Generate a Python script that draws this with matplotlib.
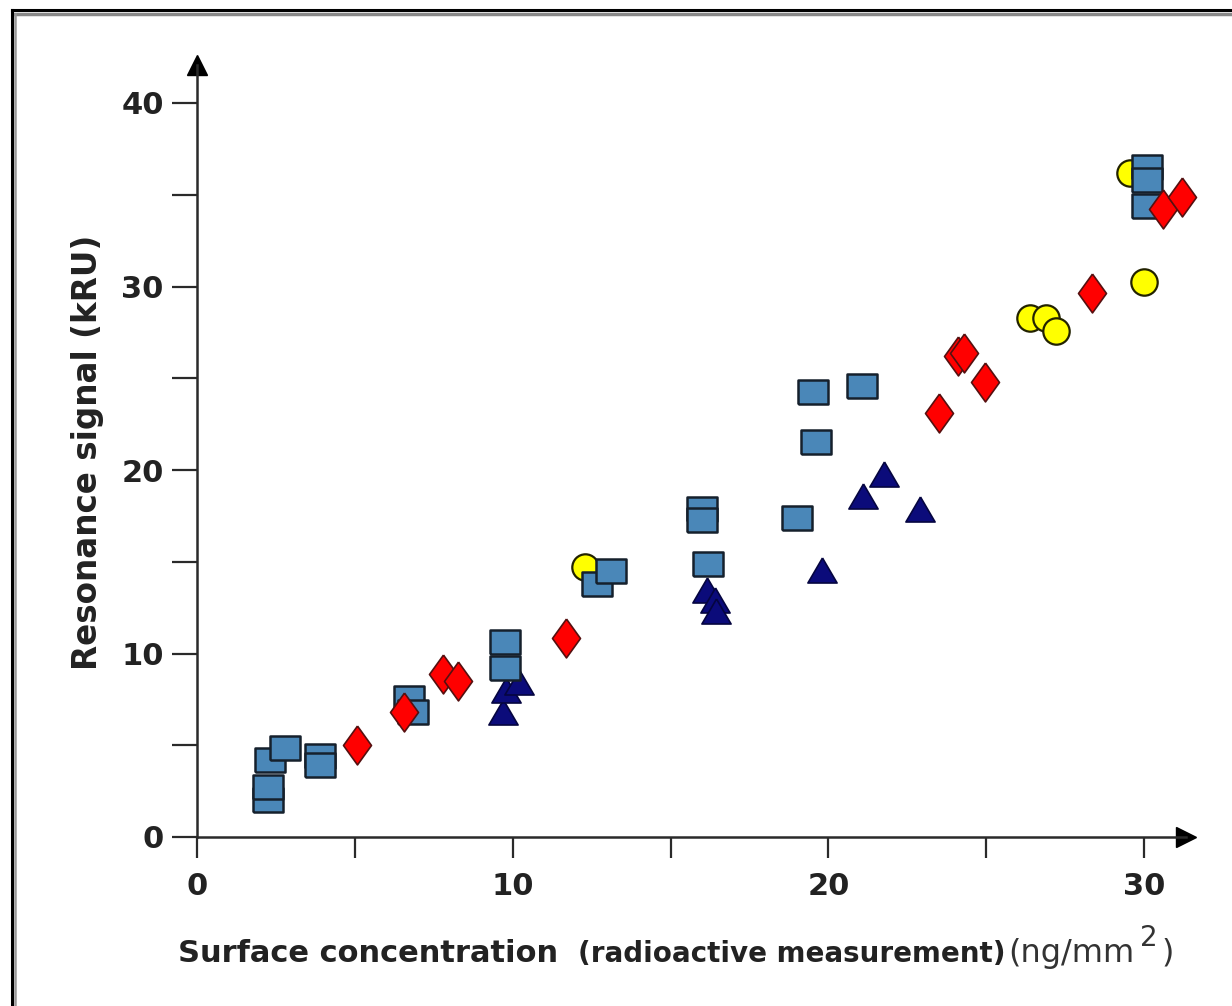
import matplotlib
matplotlib.use('Agg')
import matplotlib.pyplot as plt
from matplotlib.lines import Line2D

plt.rcParams['font.family'] = ['DejaVu Sans']

# Data
sq_x = [2.25, 2.25, 2.3, 2.8, 3.9, 3.9, 6.7, 6.85, 9.75, 9.75, 12.67, 13.1,
        16.0, 16.0, 16.2, 19.0, 19.5, 19.6, 21.06, 30.1, 30.1, 30.1]
sq_y = [2.0, 2.7, 4.2, 4.85, 4.4, 3.9, 7.6, 6.8, 10.6, 9.2, 13.8, 14.5,
        17.9, 17.3, 14.9, 17.4, 24.25, 21.5, 24.6, 36.5, 35.8, 34.4]

circ_x = [12.3, 26.4, 26.9, 27.2, 29.55, 30.0]
circ_y = [14.7, 28.3, 28.3, 27.6, 36.2, 30.25]

dia_x = [5.07, 6.56, 7.8, 8.27, 11.7, 23.5, 24.1, 24.3, 24.96, 28.35, 30.6, 31.2]
dia_y = [5.0, 6.8, 8.9, 8.5, 10.85, 23.1, 26.2, 26.4, 24.8, 29.65, 34.2, 34.9]

tri_x = [9.7, 9.8, 10.2, 16.15, 16.4, 16.45, 19.8, 21.1, 21.76, 22.9]
tri_y = [6.8, 8.0, 8.45, 13.45, 12.9, 12.3, 14.55, 18.6, 19.8, 17.9]

xticks = [0, 5, 10, 15, 20, 25, 30]
xticklabels = ['0', '', '10', '', '20', '', '30']
yticks = [0, 5, 10, 15, 20, 25, 30, 35, 40]
yticklabels = ['0', '', '10', '', '20', '', '30', '', '40']

W, H = 1232, 1006
fig = plt.figure(figsize=(W / 100, H / 100), dpi=100)

def fx(px):
    return px / W

def fy(py):
    return 1 - py / H

# outer frame (only top and left edges are in the picture)
fig.add_artist(Line2D([fx(12), fx(1240)], [fy(10), fy(10)], color='black', lw=2.2))
fig.add_artist(Line2D([fx(14), fx(1240)], [fy(14), fy(14)], color='#888888', lw=2.5))
fig.add_artist(Line2D([fx(12), fx(12)], [fy(10), fy(1010)], color='black', lw=2.2))
fig.add_artist(Line2D([fx(15), fx(15)], [fy(14), fy(1010)], color='#999999', lw=1.8))

# 31.57 px per x unit, 18.35 px per y unit
x_max, y_max = 31.33, 42.07
ax = fig.add_axes([fx(197), fy(837), x_max * 31.57 / W, y_max * 18.35 / H])
ax.set_xlim(0, x_max)
ax.set_ylim(0, y_max)

rect = [(-1.3, -1), (1.3, -1), (1.3, 1), (-1.3, 1), (-1.3, -1)]
diamond = [(0, 1), (0.72, 0), (0, -1), (-0.72, 0), (0, 1)]
tri = [(0, 0.9), (1.05, -0.9), (-1.05, -0.9), (0, 0.9)]

ax.plot(circ_x, circ_y, 'o', ms=19, mfc='#ffff00', mec='#222200', mew=1.6, zorder=3, clip_on=False)
ax.plot(tri_x, tri_y, ls='none', marker=tri, ms=21, mfc='#0b0b7a', mec='#050540', mew=1.2,
        zorder=4, clip_on=False)
ax.plot(sq_x, sq_y, ls='none', marker=rect, ms=22, mfc='#4a87b8', mec='#15202c', mew=1.8,
        zorder=5, clip_on=False)
ax.plot(dia_x, dia_y, ls='none', marker=diamond, ms=28, mfc='#ff0000', mec='#551010', mew=1.2,
        zorder=6, clip_on=False)

for s in ['top', 'right']:
    ax.spines[s].set_visible(False)
for s in ['left', 'bottom']:
    ax.spines[s].set_linewidth(1.8)
    ax.spines[s].set_color('#2a2a2a')

# arrow heads at the axis ends
ax.plot(1, 0, marker='>', ms=14, color='black', transform=ax.transAxes, clip_on=False)
ax.plot(0, 1, marker='^', ms=14, color='black', transform=ax.transAxes, clip_on=False)

ax.set_xticks(xticks)
ax.set_xticklabels(xticklabels)
ax.set_yticks(yticks)
ax.set_yticklabels(yticklabels)
ax.tick_params(axis='x', length=15, width=1.6, color='#2a2a2a', pad=10, labelsize=22, labelcolor='#222222')
ax.tick_params(axis='y', length=18, width=1.6, color='#2a2a2a', pad=6, labelsize=22, labelcolor='#222222')
for lab in ax.get_xticklabels() + ax.get_yticklabels():
    lab.set_fontweight('bold')

fig.text(fx(88), fy(452), 'Resonance signal (kRU)', rotation=90, ha='center', va='center',
         fontsize=23.5, fontweight='bold', color='#222222')

fig.text(fx(178), fy(962), 'Surface concentration', ha='left', va='baseline',
         fontsize=22, fontweight='bold', color='#222222')
fig.text(fx(578), fy(962), '(radioactive measurement)', ha='left', va='baseline',
         fontsize=20, fontweight='bold', color='#222222')
fig.text(fx(1008), fy(962), '(ng/mm', ha='left', va='baseline',
         fontsize=23, color='#333333')
fig.text(fx(1140), fy(946), '2', ha='left', va='baseline',
         fontsize=20, color='#333333')
fig.text(fx(1162), fy(962), ')', ha='left', va='baseline',
         fontsize=23, color='#333333')

fig.savefig('out.png', dpi=100)
